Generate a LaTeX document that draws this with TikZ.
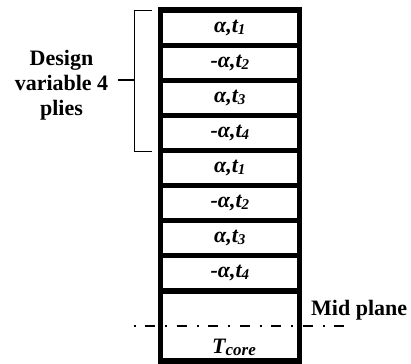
\documentclass[tikz,border=0pt]{standalone}
\usepackage{fontspec}
\setmainfont{Liberation Serif}
% lowered, smaller index for the ply labels
\newcommand\plysub[2][15]{\raisebox{-2pt}{\fontsize{#1}{#1}\selectfont #2}}
\begin{document}
\begin{tikzpicture}[x=1pt,y=-1pt,
  ply/.style={draw, line width=5.2pt, minimum width=139.1pt,
    minimum height=35.125pt, inner sep=0pt,
    font=\fontsize{22}{24}\selectfont\bfseries\itshape},
  corecell/.style={ply, minimum height=70pt},
  lbl/.style={font=\fontsize{22}{25.3}\selectfont\bfseries, inner sep=0pt},
  bracket/.style={line width=1.6pt},
  midline/.style={line width=2.5pt, dash pattern=on 2pt off 9.5pt on 10pt off 10pt}]
\useasboundingbox (0,0) rectangle (411,363);

% laminate stack: two groups of four plies above the core
\node[ply] (p1) at (229.85,27.56)  {α,t\plysub{1}};
\node[ply] (p2) at (229.85,62.69)  {-α,t\plysub{2}};
\node[ply] (p3) at (229.85,97.81)  {α,t\plysub{3}};
\node[ply] (p4) at (229.85,132.94) {-α,t\plysub{4}};
\node[ply] (p5) at (229.85,168.06) {α,t\plysub{1}};
\node[ply] (p6) at (229.85,203.19) {-α,t\plysub{2}};
\node[ply] (p7) at (229.85,238.31) {α,t\plysub{3}};
\node[ply] (p8) at (229.85,273.44) {-α,t\plysub{4}};
\node[corecell] (core) at (229.85,326) {};
\node[anchor=base, inner sep=0pt, font=\fontsize{22}{24}\selectfont\bfseries\itshape]
  (tcore) at (234,353) {T\plysub[17]{core}};

% mid plane of the laminate
\coordinate (midL) at (133.5,326);
\coordinate (midR) at (344,326);
\draw[midline] (midL) -- (midR);
\node[lbl, anchor=base west] (mid) at (311,315) {Mid plane};

% bracket marking the design variable group
\coordinate (bt) at (152,10.7);
\coordinate (bb) at (152,151.7);
\coordinate (bm) at (134.5,80);
\coordinate (bl) at (118,80);
\draw[bracket] (bt) -- (134.5,10.7) -- (134.5,151.7) -- (bb);
\draw[line width=2.2pt] (bm) -- (bl);
\node[lbl, align=center] (design) at (61.5,85.4) {Design\\variable 4\\plies};
\end{tikzpicture}
\end{document}
